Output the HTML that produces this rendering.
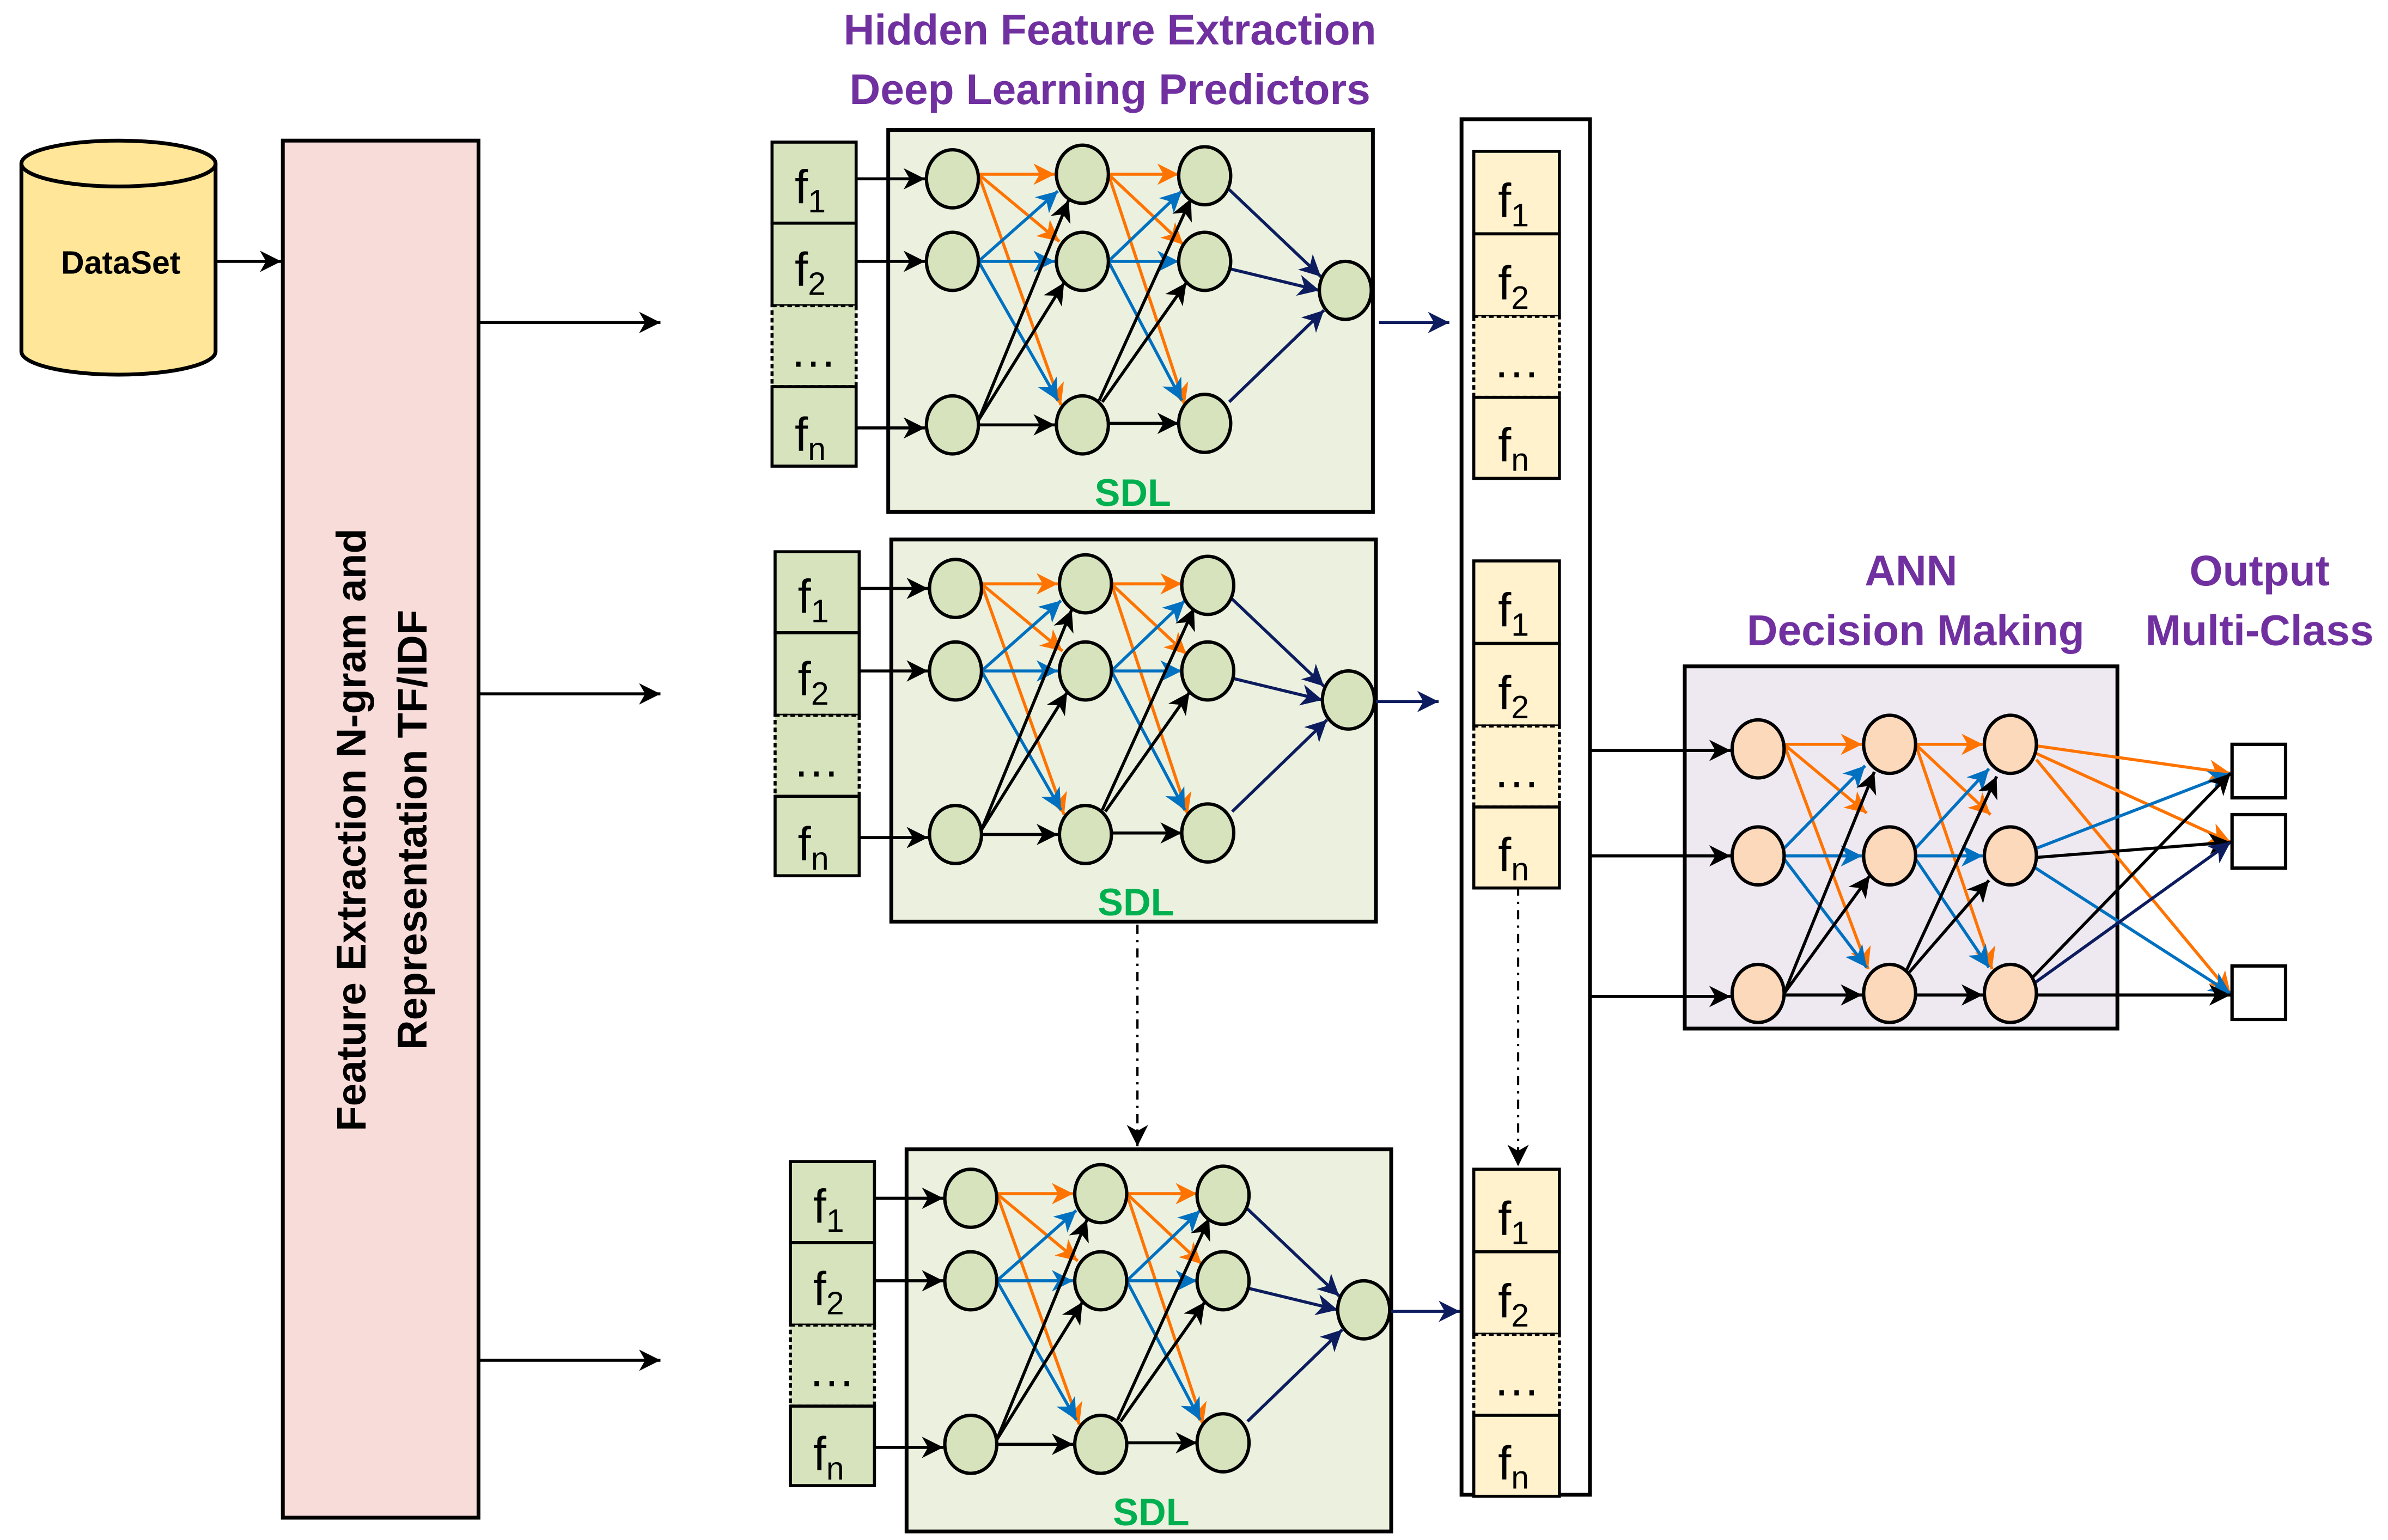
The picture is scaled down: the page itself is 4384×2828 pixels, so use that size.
<!DOCTYPE html>
<html><head><meta charset="utf-8"><style>html,body{margin:0;padding:0;background:#fff}svg{display:block}</style></head>
<body>
<svg width="4384" height="2828" viewBox="0 0 1562 1007.6" preserveAspectRatio="none" xmlns="http://www.w3.org/2000/svg" font-family="'Liberation Sans', sans-serif">
<defs>
<marker id="mk" markerUnits="userSpaceOnUse" markerWidth="16" markerHeight="14" refX="14" refY="7" orient="auto"><path d="M0,0 L14,7 L0,14 L4,7 z" fill="#000"/></marker>
<marker id="mo" markerUnits="userSpaceOnUse" markerWidth="16" markerHeight="14" refX="14" refY="7" orient="auto"><path d="M0,0 L14,7 L0,14 L4,7 z" fill="#FF7300"/></marker>
<marker id="mb" markerUnits="userSpaceOnUse" markerWidth="16" markerHeight="14" refX="14" refY="7" orient="auto"><path d="M0,0 L14,7 L0,14 L4,7 z" fill="#0070C0"/></marker>
<marker id="mn" markerUnits="userSpaceOnUse" markerWidth="16" markerHeight="14" refX="14" refY="7" orient="auto"><path d="M0,0 L14,7 L0,14 L4,7 z" fill="#0C1C5E"/></marker>

<g id="sdl">
 <rect x="581" y="85" width="317" height="250" fill="#EBF1DE" stroke="#000" stroke-width="2.5"/>
 <g stroke="#000" stroke-width="2">
  <rect x="505" y="93" width="55" height="53" fill="#D6E3BC"/>
  <rect x="505" y="146" width="55" height="54" fill="#D6E3BC"/>
  <rect x="505" y="200" width="55" height="53" fill="#D6E3BC" stroke-dasharray="3,2"/>
  <rect x="505" y="253" width="55" height="52" fill="#D6E3BC"/>
 </g>
 <g stroke-width="2" fill="none">
  <line x1="560" y1="117" x2="605" y2="117" stroke="#000" marker-end="url(#mk)"/>
  <line x1="560" y1="171" x2="605" y2="171" stroke="#000" marker-end="url(#mk)"/>
  <line x1="560" y1="280" x2="605" y2="280" stroke="#000" marker-end="url(#mk)"/>
  <line x1="640" y1="114" x2="690" y2="114" stroke="#FF7300" marker-end="url(#mo)"/>
  <line x1="640" y1="114" x2="693" y2="158" stroke="#FF7300" marker-end="url(#mo)"/>
  <line x1="640" y1="114" x2="694" y2="265" stroke="#FF7300" marker-end="url(#mo)"/>
  <line x1="640" y1="171" x2="692" y2="125" stroke="#0070C0" marker-end="url(#mb)"/>
  <line x1="640" y1="171" x2="690" y2="171" stroke="#0070C0" marker-end="url(#mb)"/>
  <line x1="640" y1="171" x2="692" y2="262" stroke="#0070C0" marker-end="url(#mb)"/>
  <line x1="640" y1="275" x2="699" y2="131" stroke="#000" marker-end="url(#mk)"/>
  <line x1="640" y1="275" x2="696" y2="185" stroke="#000" marker-end="url(#mk)"/>
  <line x1="640" y1="278" x2="690" y2="278" stroke="#000" marker-end="url(#mk)"/>
  <line x1="725" y1="114" x2="771" y2="114" stroke="#FF7300" marker-end="url(#mo)"/>
  <line x1="725" y1="114" x2="774" y2="160" stroke="#FF7300" marker-end="url(#mo)"/>
  <line x1="725" y1="114" x2="775" y2="265" stroke="#FF7300" marker-end="url(#mo)"/>
  <line x1="725" y1="171" x2="773" y2="125" stroke="#0070C0" marker-end="url(#mb)"/>
  <line x1="725" y1="171" x2="771" y2="171" stroke="#0070C0" marker-end="url(#mb)"/>
  <line x1="725" y1="171" x2="773" y2="262" stroke="#0070C0" marker-end="url(#mb)"/>
  <line x1="719" y1="262" x2="779" y2="130" stroke="#000" marker-end="url(#mk)"/>
  <line x1="721" y1="263" x2="776" y2="185" stroke="#000" marker-end="url(#mk)"/>
  <line x1="725" y1="277" x2="771" y2="277" stroke="#000" marker-end="url(#mk)"/>
  <line x1="804" y1="124" x2="864" y2="181" stroke="#0C1C5E" marker-end="url(#mn)"/>
  <line x1="805" y1="176" x2="863" y2="190" stroke="#0C1C5E" marker-end="url(#mn)"/>
  <line x1="804" y1="263" x2="866" y2="203" stroke="#0C1C5E" marker-end="url(#mn)"/>
 </g>
 <g fill="#D6E3BC" stroke="#000" stroke-width="2.2">
  <ellipse cx="623" cy="117" rx="17" ry="19"/><ellipse cx="623" cy="171" rx="17" ry="19"/><ellipse cx="623" cy="278" rx="17" ry="19"/>
  <ellipse cx="708" cy="114" rx="17" ry="19"/><ellipse cx="708" cy="171" rx="17" ry="19"/><ellipse cx="708" cy="278" rx="17" ry="19"/>
  <ellipse cx="788" cy="115" rx="17" ry="19"/><ellipse cx="788" cy="171" rx="17" ry="19"/><ellipse cx="788" cy="277" rx="17" ry="19"/>
  <ellipse cx="880" cy="190" rx="17" ry="19"/>
 </g>
</g>
</defs>

<path d="M14,107 L14,230 A63,15 0 0 0 141,230 L141,107" fill="#FFE699" stroke="#000" stroke-width="2.5"/>
<ellipse cx="77.5" cy="107" rx="63.5" ry="15" fill="#FFE699" stroke="#000" stroke-width="2.5"/>
<text x="79" y="179" font-size="21" font-weight="bold" text-anchor="middle">DataSet</text>
<line x1="141" y1="171" x2="184" y2="171" stroke="#000" stroke-width="2" marker-end="url(#mk)"/>

<rect x="185" y="92" width="128" height="901" fill="#F8DCDA" stroke="#000" stroke-width="2.5"/>
<text transform="translate(239,543) rotate(-90)" font-size="27" font-weight="bold" text-anchor="middle">Feature Extraction N-gram and</text>
<text transform="translate(279,543) rotate(-90)" font-size="27" font-weight="bold" text-anchor="middle">Representation TF/IDF</text>
<g stroke="#000" stroke-width="2">
<line x1="313" y1="211" x2="432" y2="211" marker-end="url(#mk)"/>
<line x1="313" y1="454" x2="432" y2="454" marker-end="url(#mk)"/>
<line x1="313" y1="890" x2="432" y2="890" marker-end="url(#mk)"/>
</g>

<g fill="#7030A0" font-size="28" font-weight="bold" text-anchor="middle">
<text x="726" y="29">Hidden Feature Extraction</text>
<text x="726" y="68">Deep Learning Predictors</text>
<text x="1250" y="383">ANN</text>
<text x="1253" y="422">Decision Making</text>
<text x="1478" y="383">Output</text>
<text x="1478" y="422">Multi-Class</text>
</g>

<use href="#sdl"/>
<use href="#sdl" transform="translate(2,268)"/>
<use href="#sdl" transform="translate(12,667)"/>
<g font-size="31" text-anchor="middle">
 <g id="fl">
 <text x="530" y="133">f<tspan font-size="21" dy="6">1</tspan></text>
 <text x="530" y="187">f<tspan font-size="21" dy="6">2</tspan></text>
 <text x="532" y="240">…</text>
 <text x="530" y="295">f<tspan font-size="21" dy="6">n</tspan></text>
 </g>
 <use href="#fl" transform="translate(2,268)"/>
 <use href="#fl" transform="translate(12,667)"/>
</g>
<g fill="#00B050" font-size="25" font-weight="bold" text-anchor="middle">
<text x="741" y="331">SDL</text><text x="743" y="599">SDL</text><text x="753" y="998">SDL</text>
</g>
<g stroke="#0C1C5E" stroke-width="2">
<line x1="902" y1="211" x2="948" y2="211" marker-end="url(#mn)"/>
<line x1="900" y1="459" x2="941" y2="459" marker-end="url(#mn)"/>
<line x1="910" y1="858" x2="955" y2="858" marker-end="url(#mn)"/>
</g>
<g stroke="#000" stroke-width="1.5" stroke-dasharray="6,4,1.5,4" fill="none">
<line x1="744" y1="605" x2="744" y2="750" marker-end="url(#mk)"/>
<line x1="993" y1="580" x2="993" y2="763" marker-end="url(#mk)"/>
</g>

<rect x="956" y="78" width="84" height="900" fill="none" stroke="#000" stroke-width="2.5"/>
<g id="yb">
 <g stroke="#000" stroke-width="2" fill="#FFF2CC">
 <rect x="964" y="99" width="56" height="54"/><rect x="964" y="153" width="56" height="54"/>
 <rect x="964" y="207" width="56" height="53" stroke-dasharray="3,2"/><rect x="964" y="260" width="56" height="53"/>
 </g>
 <g font-size="31" text-anchor="middle">
 <text x="990" y="142">f<tspan font-size="21" dy="6">1</tspan></text>
 <text x="990" y="196">f<tspan font-size="21" dy="6">2</tspan></text>
 <text x="992" y="247">…</text>
 <text x="990" y="302">f<tspan font-size="21" dy="6">n</tspan></text>
 </g>
</g>
<use href="#yb" transform="translate(0,268)"/>
<use href="#yb" transform="translate(0,666)"/>

<rect x="1102" y="436" width="283" height="237" fill="#EEE9F1" stroke="#000" stroke-width="2.5"/>
<g stroke-width="2" fill="none">
 <line x1="1040" y1="491" x2="1132" y2="491" stroke="#000" marker-end="url(#mk)"/>
 <line x1="1040" y1="560" x2="1132" y2="560" stroke="#000" marker-end="url(#mk)"/>
 <line x1="1040" y1="652" x2="1132" y2="652" stroke="#000" marker-end="url(#mk)"/>
 <line x1="1167" y1="487" x2="1218" y2="487" stroke="#FF7300" marker-end="url(#mo)"/>
 <line x1="1167" y1="487" x2="1221" y2="532" stroke="#FF7300" marker-end="url(#mo)"/>
 <line x1="1167" y1="487" x2="1222" y2="634" stroke="#FF7300" marker-end="url(#mo)"/>
 <line x1="1167" y1="555" x2="1220" y2="501" stroke="#0070C0" marker-end="url(#mb)"/>
 <line x1="1167" y1="560" x2="1218" y2="560" stroke="#0070C0" marker-end="url(#mb)"/>
 <line x1="1167" y1="562" x2="1221" y2="633" stroke="#0070C0" marker-end="url(#mb)"/>
 <line x1="1167" y1="650" x2="1226" y2="505" stroke="#000" marker-end="url(#mk)"/>
 <line x1="1167" y1="650" x2="1223" y2="573" stroke="#000" marker-end="url(#mk)"/>
 <line x1="1167" y1="651" x2="1218" y2="651" stroke="#000" marker-end="url(#mk)"/>
 <line x1="1253" y1="487" x2="1297" y2="487" stroke="#FF7300" marker-end="url(#mo)"/>
 <line x1="1253" y1="487" x2="1302" y2="533" stroke="#FF7300" marker-end="url(#mo)"/>
 <line x1="1253" y1="487" x2="1303" y2="634" stroke="#FF7300" marker-end="url(#mo)"/>
 <line x1="1253" y1="555" x2="1301" y2="503" stroke="#0070C0" marker-end="url(#mb)"/>
 <line x1="1253" y1="560" x2="1297" y2="560" stroke="#0070C0" marker-end="url(#mb)"/>
 <line x1="1253" y1="562" x2="1301" y2="633" stroke="#0070C0" marker-end="url(#mb)"/>
 <line x1="1247" y1="635" x2="1306" y2="508" stroke="#000" marker-end="url(#mk)"/>
 <line x1="1249" y1="636" x2="1301" y2="576" stroke="#000" marker-end="url(#mk)"/>
 <line x1="1253" y1="651" x2="1297" y2="651" stroke="#000" marker-end="url(#mk)"/>
 <line x1="1332" y1="488" x2="1459" y2="506" stroke="#FF7300" marker-end="url(#mo)"/>
 <line x1="1332" y1="493" x2="1459" y2="551" stroke="#FF7300" marker-end="url(#mo)"/>
 <line x1="1332" y1="497" x2="1459" y2="650" stroke="#FF7300" marker-end="url(#mo)"/>
 <line x1="1332" y1="555" x2="1459" y2="506" stroke="#0070C0" marker-end="url(#mb)"/>
 <line x1="1332" y1="561" x2="1459" y2="551" stroke="#000" marker-end="url(#mk)"/>
 <line x1="1330" y1="567" x2="1459" y2="650" stroke="#0070C0" marker-end="url(#mb)"/>
 <line x1="1329" y1="640" x2="1459" y2="506" stroke="#000" marker-end="url(#mk)"/>
 <line x1="1331" y1="643" x2="1459" y2="551" stroke="#0C1C5E" marker-end="url(#mn)"/>
 <line x1="1332" y1="651" x2="1459" y2="651" stroke="#000" marker-end="url(#mk)"/>
</g>
<g fill="#FCD9BA" stroke="#000" stroke-width="2.2">
 <ellipse cx="1150" cy="490" rx="17" ry="19"/><ellipse cx="1150" cy="560" rx="17" ry="19"/><ellipse cx="1150" cy="650" rx="17" ry="19"/>
 <ellipse cx="1236" cy="487" rx="17" ry="19"/><ellipse cx="1236" cy="560" rx="17" ry="19"/><ellipse cx="1236" cy="650" rx="17" ry="19"/>
 <ellipse cx="1315" cy="487" rx="17" ry="19"/><ellipse cx="1315" cy="560" rx="17" ry="19"/><ellipse cx="1315" cy="650" rx="17" ry="19"/>
</g>
<g fill="#fff" stroke="#000" stroke-width="2.2">
 <rect x="1460" y="487" width="35" height="35"/><rect x="1460" y="533" width="35" height="35"/><rect x="1460" y="632" width="35" height="35"/>
</g>
</svg>
</body></html>
